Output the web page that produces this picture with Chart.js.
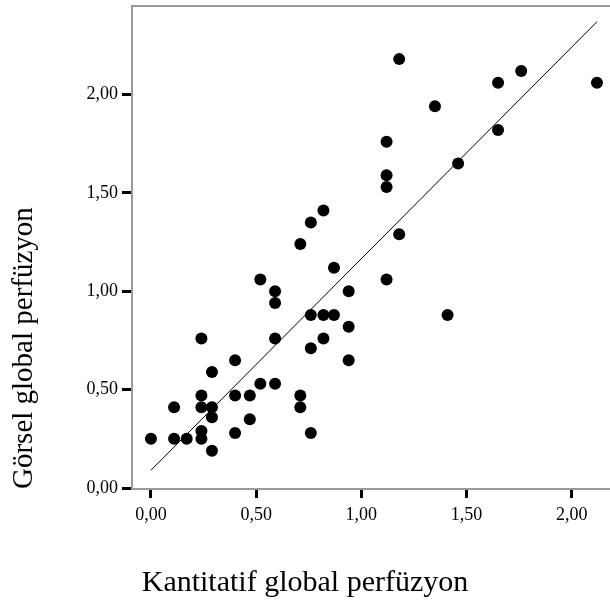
<!DOCTYPE html>
<html><head><meta charset="utf-8">
<script src="https://cdn.jsdelivr.net/npm/chart.js@4"></script>
<style>html,body{margin:0;padding:0;background:#fff}canvas{display:block}</style>
</head><body>
<canvas id="c" width="610" height="606"></canvas>
<script>
const xValues = [0.00,0.11,0.11,0.17,0.24,0.24,0.24,0.24,0.24,0.29,0.29,0.29,0.29,0.40,0.40,0.40,0.47,0.47,0.52,0.52,0.59,0.59,0.59,0.59,0.71,0.71,0.71,0.76,0.76,0.76,0.76,0.82,0.82,0.82,0.87,0.87,0.94,0.94,0.94,1.12,1.12,1.12,1.12,1.18,1.18,1.35,1.41,1.46,1.65,1.65,1.76,2.12];
const yValues = [0.25,0.41,0.25,0.25,0.76,0.47,0.41,0.29,0.25,0.59,0.41,0.36,0.19,0.65,0.47,0.28,0.47,0.35,1.06,0.53,1.00,0.94,0.76,0.53,1.24,0.47,0.41,1.35,0.88,0.71,0.28,1.41,0.88,0.76,1.12,0.88,1.00,0.82,0.65,1.76,1.59,1.53,1.06,2.18,1.29,1.94,0.88,1.65,2.06,1.82,2.12,2.06];
const fitX = [0.00, 2.12];
const fitY = [0.09, 2.37];
const xTickValues = [0, 0.5, 1, 1.5, 2];
const xTickLabels = ['0,00','0,50','1,00','1,50','2,00'];
const yTickValues = [0, 0.5, 1, 1.5, 2];
const yTickLabels = ['0,00','0,50','1,00','1,50','2,00'];
const xTitle = 'Kantitatif global perfüzyon';
const yTitle = 'Görsel global perfüzyon';

const serif = "'Liberation Serif', 'Times New Roman', serif";
const points = xValues.map((x, i) => ({x: x, y: yValues[i]}));
const fitLine = fitX.map((x, i) => ({x: x, y: fitY[i]}));

const frameTop = {
  id: 'frameTop',
  afterDraw(chart) {
    const {ctx, chartArea: a} = chart;
    ctx.save();
    ctx.strokeStyle = '#999';
    ctx.lineWidth = 2;
    ctx.beginPath();
    ctx.moveTo(a.left - 1, a.top);
    ctx.lineTo(a.right, a.top);
    ctx.stroke();
    ctx.restore();
  }
};

function noPad(s) { s.paddingTop = 0; s.paddingBottom = 0; s.paddingLeft = 0; s.paddingRight = 0; }

new Chart(document.getElementById('c'), {
  type: 'scatter',
  data: {
    datasets: [
      {data: points, backgroundColor: '#000', borderColor: '#000', pointRadius: 6, pointBorderWidth: 0, pointHoverRadius: 6},
      {data: fitLine, showLine: true, pointRadius: 0, borderColor: '#000', borderWidth: 1, fill: false}
    ]
  },
  options: {
    responsive: false,
    devicePixelRatio: 1,
    animation: false,
    layout: {autoPadding: false, padding: {top: 6, left: 0, right: 0, bottom: 0}},
    plugins: {
      legend: {display: false},
      tooltip: {enabled: false},
      title: {
        display: true, position: 'bottom', text: xTitle, color: '#000',
        font: {family: serif, size: 30, weight: 'normal'},
        padding: {top: 0, bottom: 5}
      }
    },
    scales: {
      x: {
        type: 'linear', position: 'bottom', min: -0.09, max: 2.182,
        afterFit(s) { s.height = 76; noPad(s); },
        afterBuildTicks(s) { s.ticks = xTickValues.map(v => ({value: v})); },
        ticks: {
          color: '#000', font: {family: serif, size: 18}, padding: 6, maxRotation: 0,
          callback: (v) => xTickLabels[xTickValues.indexOf(v)]
        },
        grid: {display: true, drawOnChartArea: false, drawTicks: true, tickLength: 9, tickWidth: 3, tickColor: '#000'},
        border: {display: true, color: '#999', width: 2}
      },
      y: {
        type: 'linear', position: 'left', min: -0.005, max: 2.45,
        afterFit(s) { s.width = 132; noPad(s); },
        afterBuildTicks(s) { s.ticks = yTickValues.map(v => ({value: v})); },
        ticks: {
          color: '#000', font: {family: serif, size: 18}, padding: 4,
          callback: (v) => yTickLabels[yTickValues.indexOf(v)]
        },
        grid: {display: true, drawOnChartArea: false, drawTicks: true, tickLength: 10, tickWidth: 3, tickColor: '#000'},
        border: {display: true, color: '#999', width: 2},
        title: {
          display: true, text: yTitle, align: 'start', color: '#000',
          font: {family: serif, size: 29, weight: 'normal'},
          padding: {top: 7, bottom: 0}
        }
      }
    }
  },
  plugins: [frameTop]
});
</script>
</body></html>
